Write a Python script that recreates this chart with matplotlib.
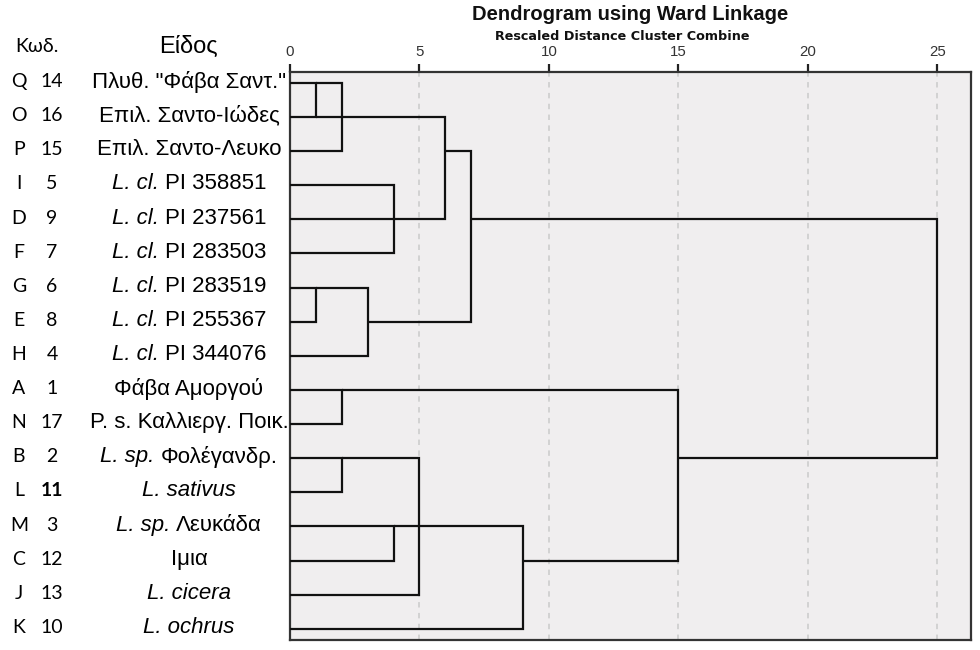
import matplotlib
matplotlib.use("Agg")
import matplotlib.pyplot as plt
import matplotlib.transforms as mtransforms

# ---------------- data ----------------
code_letters = ['Q', 'O', 'P', 'I', 'D', 'F', 'G', 'E', 'H', 'A', 'N', 'B', 'L', 'M', 'C', 'J', 'K']
code_numbers = ['14', '16', '15', '5', '9', '7', '6', '8', '4', '1', '17', '2', '11', '3', '12', '13', '10']
# species name: italic part + upright part
species_italic = ['', '', '', 'L. cl.', 'L. cl.', 'L. cl.', 'L. cl.', 'L. cl.', 'L. cl.',
                  '', '', 'L. sp.', 'L. sativus', 'L. sp.', '', 'L. cicera', 'L. ochrus']
species_roman = ['Πλυθ. "Φάβα Σαντ."', 'Επιλ. Σαντο-Ιώδες', 'Επιλ. Σαντο-Λευκο',
                 'PI 358851', 'PI 237561', 'PI 283503', 'PI 283519', 'PI 255367', 'PI 344076',
                 'Φάβα Αμοργού', 'P. s. Καλλιεργ. Ποικ.', 'Φολέγανδρ.', '', 'Λευκάδα',
                 'Ιμια', '', '']

# links: upper row, lower row, start distance of each arm, combine distance
link_row_a = [0, 0, 3, 1, 6, 6, 2, 9, 11, 13, 11, 13, 9, 4]
link_row_b = [1, 2, 5, 4, 7, 8, 7, 10, 12, 14, 15, 16, 14, 11]
link_h_a = [0, 1, 0, 1, 0, 1, 6, 0, 0, 0, 2, 4, 2, 7]
link_h_b = [0, 0, 0, 0, 0, 0, 3, 0, 0, 0, 0, 0, 9, 15]
link_dist = [1, 2, 4, 6, 1, 3, 7, 2, 2, 4, 5, 9, 15, 25]

x_ticks = [0, 5, 10, 15, 20, 25]

# ---------------- style ----------------
plt.rcParams['font.family'] = ['Liberation Sans', 'DejaVu Sans']

W, H = 980, 650
fig = plt.figure(figsize=(W / 100, H / 100), dpi=100)
fig.patch.set_facecolor('white')

left_px, right_px, top_px, bot_px = 290, 971, 72, 640
ax = fig.add_axes([left_px / W, 1 - bot_px / H, (right_px - left_px) / W, (bot_px - top_px) / H])
ax.set_facecolor('#f0eeef')
ax.set_xlim(0, 26.3)
ax.set_ylim(16.33, -0.32)

for xv in x_ticks[1:]:
    ax.axvline(xv, color='#cfcfcf', lw=1.3, ls=(0, (3, 3)), zorder=1)

for ra, rb, ha, hb, d in zip(link_row_a, link_row_b, link_h_a, link_h_b, link_dist):
    ax.plot([ha, d, d, hb], [ra, ra, rb, rb], color='#111111', lw=1.6,
            solid_joinstyle='miter', solid_capstyle='butt', zorder=3)

ax.xaxis.tick_top()
ax.set_xticks(x_ticks)
ax.set_xticklabels([str(v) for v in x_ticks])
ax.tick_params(axis='x', direction='out', length=6, width=1.6, color='#222222',
               labelsize=10.8, labelcolor='#333333', pad=3)
ax.set_yticks([])
for sp in ax.spines.values():
    sp.set_color('#333333')
    sp.set_linewidth(1.6)

fig.text(630 / W, 1 - 14 / H, 'Dendrogram using Ward Linkage', ha='center', va='center',
         fontsize=14.5, fontweight='bold', color='#111111')
fig.text(622 / W, 1 - 37 / H, 'Rescaled Distance Cluster Combine', ha='center', va='center',
         fontsize=9.2, fontweight='bold', color='#111111', family=['DejaVu Sans'])

# ---------------- left text panel ----------------
axl = fig.add_axes([0, 0, 289 / W, 1], zorder=5)
axl.set_facecolor('white')
axl.set_xlim(0, 289)
axl.set_ylim(H, 0)
axl.axis('off')
axl.patch.set_visible(True)

trans = mtransforms.blended_transform_factory(axl.transData, ax.transData)
axl.text(37, 47, 'Κωδ.', ha='center', va='center', fontsize=14, family=['Lato', 'DejaVu Sans'])
axl.text(188, 47, 'Είδος', ha='center', va='center', fontsize=17)

renderer = fig.canvas.get_renderer()
name_fs = 16
name_cx = 189
sp_w = axl.text(0, 0, 'a a', fontsize=name_fs, alpha=0).get_window_extent(renderer).width - \
    axl.text(0, 0, 'aa', fontsize=name_fs, alpha=0).get_window_extent(renderer).width

for i, (lt, nm, it_part, rm_part) in enumerate(zip(code_letters, code_numbers,
                                                    species_italic, species_roman)):
    y = i - 0.04
    axl.text(19, y, lt, ha='center', va='center', fontsize=14, transform=trans,
             family=['Lato', 'DejaVu Sans'])
    axl.text(52, y, nm, ha='center', va='center', fontsize=14, transform=trans,
             family=['Lato', 'DejaVu Sans'], fontweight='bold' if nm == '11' else 'normal')
    parts = []
    if it_part:
        parts.append(axl.text(0, y, it_part, ha='left', va='center', fontsize=name_fs,
                              style='italic', transform=trans))
    if rm_part:
        parts.append(axl.text(0, y, rm_part, ha='left', va='center', fontsize=name_fs,
                              transform=trans))
    widths = [p.get_window_extent(renderer).width for p in parts]
    total = sum(widths) + sp_w * (len(parts) - 1)
    x = name_cx - total / 2
    for p, w in zip(parts, widths):
        p.set_x(x)
        x += w + sp_w

fig.savefig('out.png', dpi=100, facecolor='white')
